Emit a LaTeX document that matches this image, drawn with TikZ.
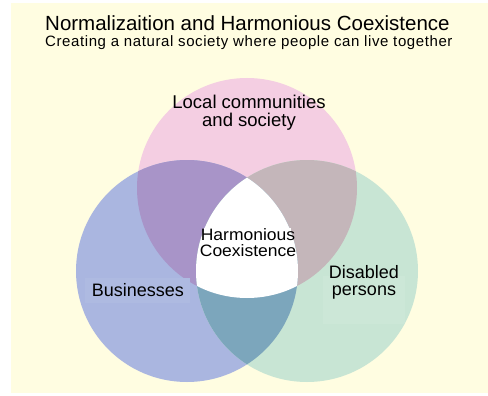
\documentclass[tikz,border=0pt]{standalone}
\usepackage{fontspec}
\setmainfont{Liberation Sans}
\definecolor{cream}{RGB}{255,253,225}
\definecolor{cpink}{RGB}{244,206,226}
\definecolor{cblue}{RGB}{170,182,224}
\definecolor{cgreen}{RGB}{200,229,212}
\definecolor{lpurple}{RGB}{168,148,200}
\definecolor{lgray}{RGB}{196,182,186}
\definecolor{lteal}{RGB}{124,166,188}
\tikzset{
  lbl/.style={inner sep=0pt, text=black, align=center},
  pinkdisc/.style={radius=110pt},
  sidedisc/.style={radius=111pt}
}
\begin{document}
\begin{tikzpicture}[x=1pt,y=-1pt]
\useasboundingbox (0,0) rectangle (488,396);
\fill[white] (0,0) rectangle (488,396);
\fill[cream] (11,3) rectangle (488,393);
\coordinate (P) at (247,188);
\coordinate (B) at (187,271);
\coordinate (G) at (307,271);
% circles
\fill[cpink] (P) circle[pinkdisc];
\fill[cblue] (B) circle[sidedisc];
\fill[cgreen] (G) circle[sidedisc];
% lenses
\begin{scope}
  \clip (P) circle[pinkdisc];
  \fill[lpurple] (B) circle[sidedisc];
  \fill[lgray] (G) circle[sidedisc];
\end{scope}
\begin{scope}
  \clip (B) circle[sidedisc];
  \fill[lteal] (G) circle[sidedisc];
\end{scope}
\begin{scope}
  \clip (B) circle[sidedisc];
  \clip (G) circle[sidedisc];
  \fill[white] (P) circle[pinkdisc];
\end{scope}
% subtle label backgrounds
\fill[white] (204,228) rectangle (291,289);
\fill[cblue!95!white] (85,278) rectangle (190,303);
\fill[cgreen!93!white] (323,276) rectangle (405,324);
% texts
\node[lbl, anchor=base west, font=\fontsize{20.5}{24}\selectfont] (title) at (45,30.7)
  {Normalizaition and Harmonious Coexistence};
\node[lbl, anchor=base west, font=\fontsize{15}{18}\selectfont\addfontfeatures{LetterSpace=4}] (sub) at (45,47)
  {Creating a natural society where people can live together};
\node[lbl, anchor=base, font=\fontsize{18.5}{18.3}\selectfont] (local) at (249,126.7)
  {Local communities\\and society};
\node[lbl, anchor=base, font=\fontsize{16.5}{15.5}\selectfont\addfontfeatures{FakeStretch=1.06}] (harm) at (248,256.3)
  {Harmonious\\Coexistence};
\node[lbl, anchor=base west, font=\fontsize{18}{18}\selectfont] (bus) at (91.7,296)
  {Businesses};
\node[lbl, anchor=base, font=\fontsize{18}{17.7}\selectfont] (dis) at (364,295.7)
  {Disabled\\persons};
\end{tikzpicture}
\end{document}
